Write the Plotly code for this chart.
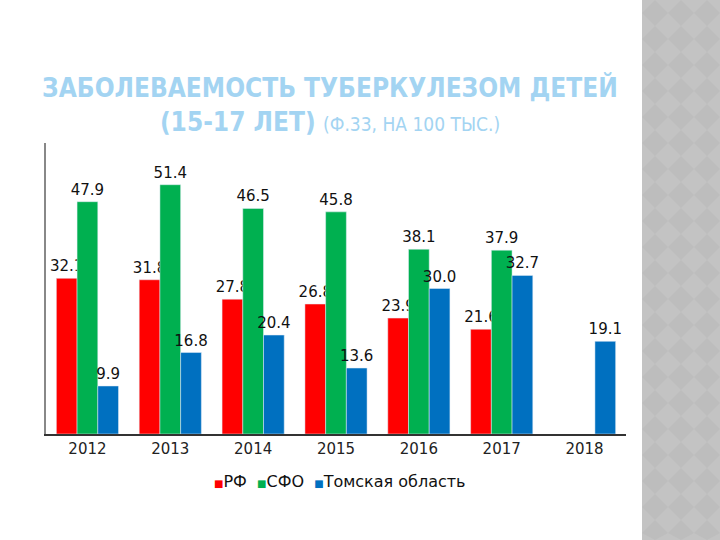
import plotly.graph_objects as go

years = ["2012", "2013", "2014", "2015", "2016", "2017", "2018"]
rf = [32.1, 31.8, 27.8, 26.8, 23.9, 21.6, None]
sfo = [47.9, 51.4, 46.5, 45.8, 38.1, 37.9, None]
tomsk = [9.9, 16.8, 20.4, 13.6, 30.0, 32.7, 19.1]

series = [("РФ", rf, "#FF0000"), ("СФО", sfo, "#00B050"), ("Томская область", tomsk, "#0070C0")]

fig = go.Figure()
for name, vals, col in series:
    fig.add_trace(go.Bar(
        x=years, y=vals, name=name, marker_color=col, showlegend=False,
        text=[("%.1f" % v) if v is not None else "" for v in vals],
        textposition="outside", cliponaxis=False,
        textfont=dict(family="DejaVu Sans", size=15, color="#111111"),
    ))

# compact legend built from the series names/colours
legend_html = "&nbsp;&nbsp;".join(
    "<span style='color:%s;font-size:10px'>■</span>%s" % (col, name) for name, _, col in series
)

# decorative side strip (pixel -> paper conversion)
L, R, T, B = 46, 94, 143, 106
PW, PH = 720 - L - R, 540 - T - B
def px(x):
    return (x - L) / PW
def py(y):
    return (540 - B - y) / PH

shapes = [dict(type="rect", xref="paper", yref="paper", x0=px(642), x1=px(720),
               y0=py(540), y1=py(0), fillcolor="#BDBDBD", line=dict(width=0), layer="below")]
h = 13
segs = []
for j in range(0, 540 // (2 * h) + 2):
    for i in range(0, 5):
        cx = 642 + 2 * h * i
        cy = 2 * h * j
        pts = [(cx, cy - h), (cx + h, cy), (cx, cy + h), (cx - h, cy)]
        pts = [(min(max(x, 642), 720), min(max(y, 0), 540)) for x, y in pts]
        segs.append("M" + " L".join("%.5f,%.5f" % (px(x), py(y)) for x, y in pts) + " Z")
shapes.append(dict(type="path", xref="paper", yref="paper", path=" ".join(segs),
                   fillcolor="#C3C3C3", line=dict(width=0), layer="below"))

fig.update_layout(
    width=720, height=540,
    margin=dict(l=L, r=R, t=T, b=B),
    paper_bgcolor="white", plot_bgcolor="white",
    barmode="group", bargap=0.25, bargroupgap=0,
    uniformtext=dict(minsize=15, mode="show"),
    showlegend=False,
    xaxis=dict(showline=True, linecolor="#333333", linewidth=1.5, ticks="",
               tickfont=dict(family="DejaVu Sans", size=15, color="#222222"),
               showgrid=False),
    yaxis=dict(range=[0, 60], showline=True, linecolor="#888888", linewidth=1.5,
               showticklabels=False, ticks="", showgrid=False, zeroline=False),
    title=dict(
        text="<b>ЗАБОЛЕВАЕМОСТЬ ТУБЕРКУЛЕЗОМ ДЕТЕЙ</b><br><b>(15-17 ЛЕТ)</b> <span style='font-size:19px'>(Ф.33, НА 100 ТЫС.)</span>",
        x=330 / 720, xanchor="center", yref="container", y=1 - 97 / 540, yanchor="top",
        font=dict(family="DejaVu Sans Condensed, Liberation Sans Narrow", size=26, color="#A3D4F2"),
    ),
    annotations=[dict(text=legend_html, xref="paper", yref="paper", x=px(340), y=py(481),
                      xanchor="center", yanchor="middle", showarrow=False,
                      font=dict(family="DejaVu Sans", size=16, color="#111111"))],
    shapes=shapes,
)

fig.write_html("out.html")
